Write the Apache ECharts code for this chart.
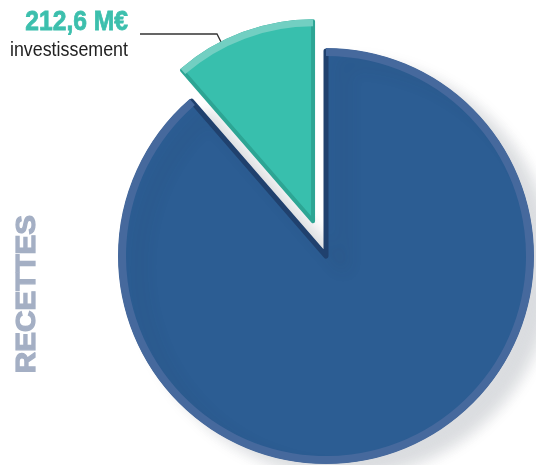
<!DOCTYPE html>
<html>
<head>
<meta charset="utf-8">
<script src="https://cdn.jsdelivr.net/npm/echarts@6/dist/echarts.min.js"></script>
<style>
  html, body { margin: 0; padding: 0; background: #fff; }
  #chart { width: 536px; height: 465px; }
</style>
</head>
<body>
<div id="chart"></div>
<script>
// recettes, en M€
const names = ['fonctionnement', 'investissement'];
const values = [1656.2, 212.6];
const valueLabels = ['1 656,2 M€', '212,6 M€'];
const colors = ['#2c5d93', '#38bfad'];
const rimColors = ['#46699d', '#72cfc2'];
const title = 'RECETTES';

const FONT = '"Liberation Sans", Arial, sans-serif';
const center = [326, 256];

// blue slice drawn by one series, teal (exploded) by another
function pieData(idx, color) {
  return values.map((v, i) => ({
    name: names[i],
    value: v,
    selected: i === idx && idx === 1,
    itemStyle: i === idx ? { color: color[i] } : { color: 'transparent', borderWidth: 0, shadowBlur: 0 }
  }));
}

const chart = echarts.init(document.getElementById('chart'));
chart.setOption({
  animation: false,
  series: [
    {
      type: 'pie',
      silent: true,
      center: center,
      radius: [0, 205],
      startAngle: 90,
      label: { show: false },
      itemStyle: {
        borderColor: '#20416e', borderWidth: 5,
        shadowColor: 'rgba(40,50,70,0.16)', shadowBlur: 16, shadowOffsetX: 18, shadowOffsetY: 12
      },
      data: pieData(0, colors)
    },
    {
      type: 'pie',
      silent: true,
      center: center,
      radius: [200, 208],
      startAngle: 90,
      label: { show: false },
      data: pieData(0, rimColors)
    },
    {
      type: 'pie',
      silent: true,
      center: center,
      radius: [0, 200],
      startAngle: 90,
      selectedMode: 'single',
      selectedOffset: 37,
      label: { show: false },
      itemStyle: { borderColor: '#2da594', borderWidth: 4 },
      data: pieData(1, colors)
    },
    {
      type: 'pie',
      silent: true,
      center: center,
      radius: [195, 202],
      startAngle: 90,
      selectedMode: 'single',
      selectedOffset: 37,
      label: { show: false },
      data: pieData(1, rimColors)
    }
  ],
  graphic: [
    {
      type: 'text', x: 27, y: 294, rotation: Math.PI / 2, scaleX: 1.06,
      style: { text: title, fill: '#a4afc4', stroke: '#a4afc4', lineWidth: 1.2, fontFamily: FONT, fontWeight: 'bold', fontSize: 28, align: 'center', verticalAlign: 'middle' }
    },
    {
      type: 'text', x: 128, y: 22, scaleX: 0.88,
      style: { text: valueLabels[1], fill: '#3cbfad', stroke: '#3cbfad', lineWidth: 0.8, fontFamily: FONT, fontWeight: 'bold', fontSize: 28, align: 'right', verticalAlign: 'middle' }
    },
    {
      type: 'text', x: 128, y: 50, scaleX: 0.85,
      style: { text: names[1], fill: '#222', fontFamily: FONT, fontSize: 21, align: 'right', verticalAlign: 'middle' }
    },
    {
      type: 'polyline',
      shape: { points: [[140, 34], [217, 34], [264, 128]] },
      style: { stroke: '#333', lineWidth: 1.3, fill: null }
    },
    {
      type: 'circle', shape: { cx: 264, cy: 128, r: 3 },
      style: { fill: '#1a1a1a' }
    },
    {
      type: 'text', x: 330, y: 320, scaleX: 0.89,
      style: { text: valueLabels[0], fill: '#fff', stroke: '#fff', lineWidth: 0.8, fontFamily: FONT, fontWeight: 'bold', fontSize: 28, align: 'center', verticalAlign: 'middle' }
    },
    {
      type: 'text', x: 330, y: 348, scaleX: 0.85,
      style: { text: names[0], fill: '#fff', fontFamily: FONT, fontSize: 21, align: 'center', verticalAlign: 'middle' }
    }
  ]
});
</script>
</body>
</html>
